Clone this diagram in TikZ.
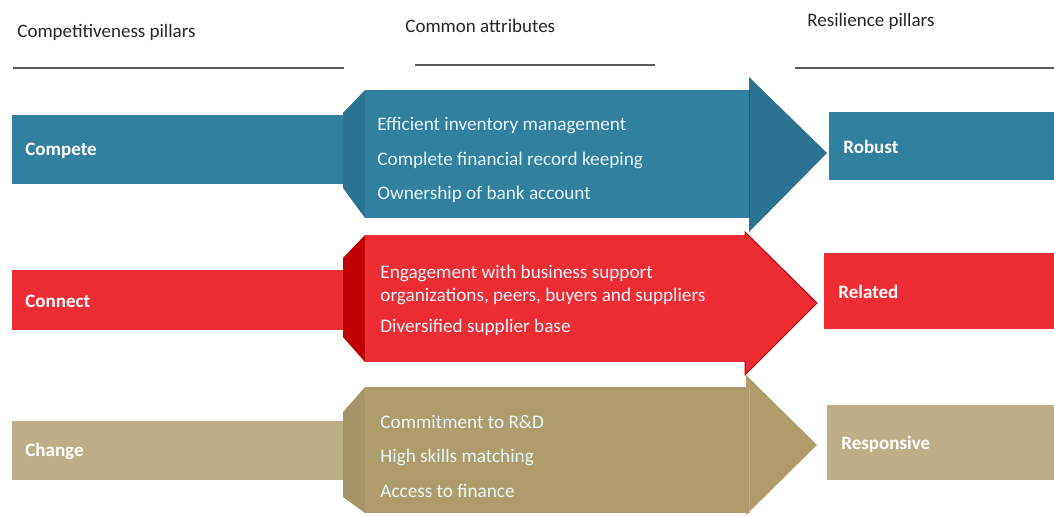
\documentclass[tikz,border=0pt]{standalone}
\usepackage{fontspec}
\setmainfont{Carlito}
\usetikzlibrary{positioning}
\definecolor{cblue}{HTML}{31809F}
\definecolor{cbluedk}{HTML}{2C7292}
\definecolor{cred}{HTML}{EE2D33}
\definecolor{creddk}{HTML}{C00000}
\definecolor{ctan}{HTML}{AE9D6B}
\definecolor{ctanlt}{HTML}{BCAE87}
\definecolor{cline}{HTML}{5A5A5A}

\begin{document}
\begin{tikzpicture}[line join=miter,x=0.5pt,y=-0.5pt,
    hd/.style={anchor=west,text=black!85,inner sep=0pt,font=\fontsize{9.5}{11}\selectfont},
    pillar/.style={anchor=west,text=white,inner sep=0pt,font=\fontsize{9.5}{11}\selectfont\bfseries},
    attr/.style={anchor=west,text=white!90!cyan,inner sep=0pt,font=\fontsize{9.6}{11}\selectfont}]
  \useasboundingbox (0,0) rectangle (1054,515);

  %%%% HEADINGS
  \node[hd] (hcomp) at (17,32) {Competitiveness pillars};
  \node[hd] (hcomm) at (405,26) {Common attributes};
  \node[hd] (hres) at (807,21) {Resilience pillars};
  \draw[cline,line width=0.6pt] (13,68) -- (344,68);
  \draw[cline,line width=0.6pt] (415,65) -- (655,65);
  \draw[cline,line width=0.6pt] (795,68) -- (1054,68);

  %%%% COMPETE -> ROBUST
  \fill[cblue] (12,115) rectangle (345,184);
  \fill[cbluedk] (343,113) -- (365,90) -- (365,218) -- (343,188) -- cycle;
  \fill[cblue] (365,90) rectangle (750,218);
  \fill[cbluedk] (749,77) -- (827,153) -- (749,232) -- cycle;
  \draw[cblue!70!black,line width=0.4pt] (749,90) -- (749,218);
  \fill[cblue] (829,112) rectangle (1054,180);
  \node[pillar] (compete) at (25,151) {Compete};
  \node[pillar] (robust) at (843,147) {Robust};
  \node[attr] (a1) at (377,126) {Efficient inventory management};
  \node[attr] (a2) at (377,160) {Complete financial record keeping};
  \node[attr] (a3) at (377,194) {Ownership of bank account};

  %%%% CONNECT -> RELATED
  \fill[cred] (12,270) rectangle (345,330);
  \fill[creddk] (343,258) -- (365,235) -- (365,362) -- (343,337) -- cycle;
  \fill[cred] (365,235) rectangle (746,362);
  \filldraw[fill=cred,draw=creddk,line width=0.5pt] (745,232) -- (817,303) -- (745,375) -- cycle;
  \fill[cred] (744,236) rectangle (748,361);
  \fill[cred] (824,253) rectangle (1054,329);
  \node[pillar] (connect) at (25,301) {Connect};
  \node[pillar] (related) at (838,292) {Related};
  \node[attr] (b1) at (380,273) {Engagement with business support};
  \node[attr] (b2) at (380,296) {organizations, peers, buyers and suppliers};
  \node[attr] (b3) at (380,327) {Diversified supplier base};

  %%%% CHANGE -> RESPONSIVE
  \fill[ctanlt] (12,421) rectangle (345,480);
  \fill[ctan!95!black] (343,412) -- (365,387) -- (365,513) -- (343,497) -- cycle;
  \fill[ctan] (365,387) rectangle (750,513);
  \fill[ctan] (746,375) -- (817,445) -- (746,515) -- cycle;
  \draw[ctanlt,line width=0.4pt] (749,387) -- (749,513);
  \fill[ctanlt] (827,405) rectangle (1054,480);
  \node[pillar] (change) at (25,451) {Change};
  \node[pillar] (respons) at (841,444) {Responsive};
  \node[attr] (c1) at (380,422) {Commitment to R\&D};
  \node[attr] (c2) at (380,457) {High skills matching};
  \node[attr] (c3) at (380,491) {Access to finance};
\end{tikzpicture}
\end{document}
